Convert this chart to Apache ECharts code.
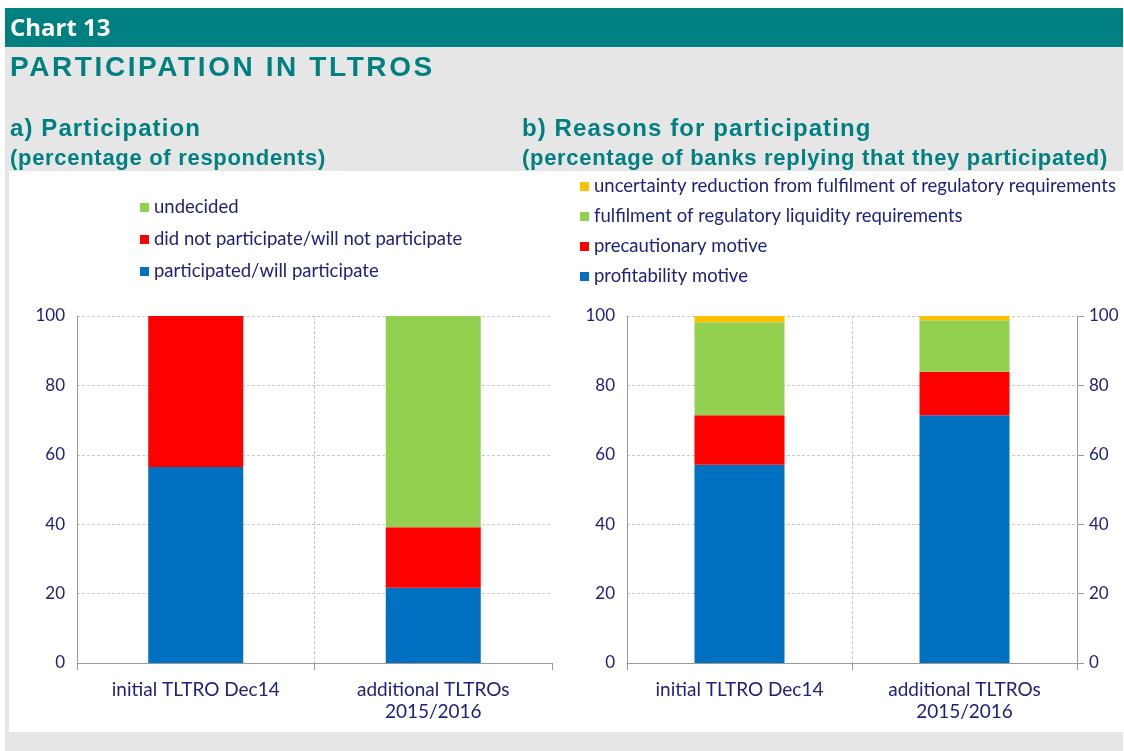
<!DOCTYPE html>
<html>
<head>
<meta charset="utf-8">
<script src="https://cdn.jsdelivr.net/npm/echarts@6/dist/echarts.min.js"></script>
<style>
  html, body { margin: 0; padding: 0; background: #fff; }
  .page { position: relative; width: 1124px; height: 751px; overflow: hidden; }
  #chart { position: absolute; left: 0; top: 0; width: 1124px; height: 751px; }
  .hd { position: absolute; white-space: nowrap; font-weight: bold; line-height: normal; color: #008080; font-family: "Liberation Sans", Arial, sans-serif; }
  .num { left: 10px; top: 10px; color: #fff; font-family: "Open Sans", sans-serif; font-size: 24px; }
  .ttl { left: 10px; top: 51px; font-size: 28px; letter-spacing: 2.6px; }
  .sub1 { top: 114px; font-size: 24px; letter-spacing: 1.1px; }
  .sub2 { top: 145px; font-size: 22px; letter-spacing: 0.7px; }
</style>
</head>
<body>
<div class="page">
  <div id="chart"></div>
  <div class="hd num">Chart 13</div>
  <div class="hd ttl">PARTICIPATION IN TLTROS</div>
  <div class="hd sub1" style="left:10px">a) Participation</div>
  <div class="hd sub2" style="left:10px">(percentage of respondents)</div>
  <div class="hd sub1" style="left:522px">b) Reasons for participating</div>
  <div class="hd sub2" style="left:522px">(percentage of banks replying that they participated)</div>
</div>
<script>
// categories shared by both panels
const categories = ["initial TLTRO Dec14", "additional TLTROs\n2015/2016"];

// a) participation (% of respondents)
const participated = [56.5, 21.7];
const notParticipated = [43.5, 17.4];
const undecided = [0, 60.9];

// b) reasons for participating (% of banks that participated)
const profitability = [57.1, 71.4];
const precautionary = [14.3, 12.5];
const liquidity = [26.8, 14.9];
const uncertainty = [1.8, 1.2];

const yTicks = [0, 20, 40, 60, 80, 100];

const navy = "#20217c";
const teal = "#008080";
const font = "Lato";

const myChart = echarts.init(document.getElementById("chart"));

const axisLineGrey = { show: true, lineStyle: { color: "#9a9a9a", width: 1 } };

function xAxis(gridIndex) {
  return {
    type: "category",
    gridIndex: gridIndex,
    data: categories,
    axisLine: axisLineGrey,
    axisTick: { show: true, length: 7, lineStyle: { color: "#9a9a9a" } },
    splitLine: {
      show: true,
      showMaxLine: false,
      lineStyle: { color: "#c8c8c8", type: [3, 2], width: 1 }
    },
    axisLabel: { color: navy, fontFamily: font, fontSize: 19, margin: 16, lineHeight: 22 }
  };
}

function yAxis(gridIndex, position, ticks) {
  return {
    type: "value",
    gridIndex: gridIndex,
    position: position,
    min: yTicks[0],
    max: yTicks[yTicks.length - 1],
    interval: 20,
    axisLine: axisLineGrey,
    axisTick: { show: ticks, length: 7, lineStyle: { color: "#9a9a9a" } },
    splitLine: position === "left"
      ? { show: true, lineStyle: { color: "#c8c8c8", type: [3, 2], width: 1 } }
      : { show: false },
    axisLabel: { color: navy, fontFamily: font, fontSize: 17, margin: 12 }
  };
}

function bar(name, data, color, x, y) {
  return {
    name: name,
    type: "bar",
    stack: "s" + x,
    xAxisIndex: x,
    yAxisIndex: y,
    barWidth: "40%",
    data: data,
    itemStyle: { color: color },
    emphasis: { disabled: true }
  };
}

myChart.setOption({
  animation: false,
  graphic: [
    { type: "rect", shape: { x: 5, y: 8, width: 1118, height: 743 }, style: { fill: "#e6e6e6" }, z: -10 },
    { type: "rect", shape: { x: 5, y: 8, width: 1118, height: 39 }, style: { fill: teal }, z: -9 },
    { type: "rect", shape: { x: 9, y: 171, width: 1115, height: 561 }, style: { fill: "#ffffff" }, z: -9 }
  ],
  legend: [
    {
      left: 135, top: 193, orient: "vertical", itemWidth: 9, itemHeight: 9, itemGap: 13,
      icon: "rect", selectedMode: false,
      textStyle: { color: navy, fontFamily: font, fontSize: 18.5 },
      data: ["undecided", "did not participate/will not participate", "participated/will participate"]
    },
    {
      left: 575, top: 172, orient: "vertical", itemWidth: 9, itemHeight: 9, itemGap: 11,
      icon: "rect", selectedMode: false,
      textStyle: { color: navy, fontFamily: font, fontSize: 18.5 },
      data: ["uncertainty reduction from fulfilment of regulatory requirements",
             "fulfilment of regulatory liquidity requirements",
             "precautionary motive", "profitability motive"]
    }
  ],
  grid: [
    { left: 77, right: 572, top: 316, bottom: 88 },
    { left: 627, right: 47, top: 316, bottom: 88 }
  ],
  xAxis: [xAxis(0), xAxis(1)],
  yAxis: [yAxis(0, "left", false), yAxis(1, "left", false), yAxis(1, "right", true)],
  series: [
    bar("participated/will participate", participated, "#0070c0", 0, 0),
    bar("did not participate/will not participate", notParticipated, "#ff0000", 0, 0),
    bar("undecided", undecided, "#92d050", 0, 0),
    bar("profitability motive", profitability, "#0070c0", 1, 1),
    bar("precautionary motive", precautionary, "#ff0000", 1, 1),
    bar("fulfilment of regulatory liquidity requirements", liquidity, "#92d050", 1, 1),
    bar("uncertainty reduction from fulfilment of regulatory requirements", uncertainty, "#ffc000", 1, 1)
  ]
});

window.addEventListener("resize", () => {
  myChart.resize();
});
</script>
</body>
</html>
